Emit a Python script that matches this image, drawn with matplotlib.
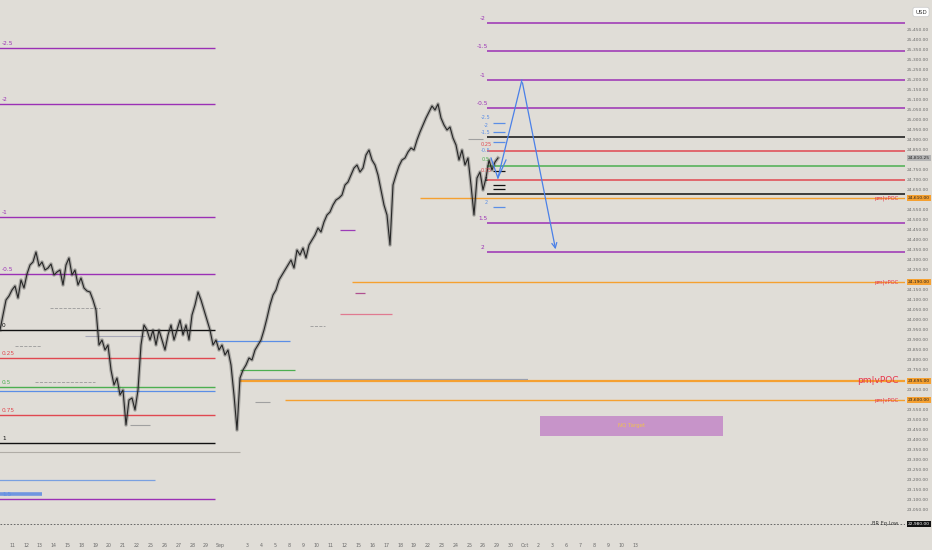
import numpy as np
import matplotlib.pyplot as plt
from matplotlib.transforms import blended_transform_factory

# price series, one close every 3 chart pixels (~5 hourly bars)
closes = [23950, 24025, 24100, 24120, 24150, 24170, 24110, 24200, 24160, 24230,
          24275, 24290, 24340, 24270, 24290, 24250, 24260, 24280, 24225, 24240,
          24250, 24175, 24275, 24310, 24225, 24250, 24175, 24210, 24160, 24145,
          24140, 24100, 24050, 23875, 23900, 23850, 23875, 23750, 23675, 23710,
          23625, 23650, 23475, 23600, 23610, 23550, 23650, 23875, 23975, 23950,
          23900, 23950, 23875, 23950, 23900, 23850, 23925, 23975, 23900, 23950,
          24000, 23925, 23975, 23900, 24025, 24075, 24140, 24100, 24050, 24000,
          23950, 23875, 23900, 23850, 23875, 23825, 23850, 23775, 23625, 23450,
          23710, 23750, 23775, 23810, 23800, 23850, 23875, 23900, 23950, 24010,
          24075, 24125, 24150, 24200, 24225, 24250, 24275, 24300, 24260, 24350,
          24325, 24360, 24310, 24375, 24400, 24425, 24460, 24440, 24490, 24525,
          24540, 24575, 24600, 24610, 24625, 24675, 24690, 24725, 24760, 24775,
          24740, 24760, 24825, 24850, 24800, 24775, 24725, 24650, 24575, 24525,
          24375, 24675, 24725, 24770, 24800, 24810, 24840, 24860, 24850, 24900,
          24940, 24975, 25010, 25040, 25070, 25050, 25080, 25010, 24975, 24950,
          24965, 24910, 24875, 24800, 24850, 24775, 24810, 24675, 24525, 24710,
          24740, 24650, 24710, 24800, 24750, 24790, 24810]
bar0 = -0.67

# left fib (ratio, price, colour)
left_fib_ratio = ["-2.5", "-2", "-1", "-0.5", "0", "0.25", "0.5", "0.75", "1", "1.5"]
left_fib_price = [25360, 25080, 24515, 24230, 23950, 23810, 23665, 23525, 23385, 23105]
left_fib_color = ["p", "p", "p", "p", "k", "r", "g", "r", "k", "p"]
left_fib_span = (-2, 71)

# right fib
right_fib_ratio = ["-2", "-1.5", "-1", "-0.5", "0", "0.25", "0.5", "0.75", "1", "1.5", "2"]
right_fib_price = [25485, 25345, 25200, 25060, 24915, 24845, 24770, 24700, 24630, 24485, 24340]
right_fib_color = ["p", "p", "p", "p", "k", "r", "g", "r", "k", "p", "p"]
right_fib_span = (161.7, 305)
right_fib_labeled = ["-2", "-1.5", "-1", "-0.5", "1.5", "2"]

# small fib inside the last swing
mini_price = [24985, 24940, 24890, 24745, 24675, 24655, 24565]
mini_color = ["b", "b", "b", "k", "k", "k", "b"]
mini_span = (163.5, 167.5)
mini_lbl = ["-2.5", "-2", "-1.5", "0.25", "-0.5", "0.5", "0.75", "1", "2"]
mini_lbl_price = [25010, 24970, 24935, 24875, 24845, 24800, 24745, 24700, 24585]
mini_lbl_color = ["b", "b", "b", "r", "b", "g", "r", "k", "b"]

# pm|vPOC levels
poc_price = [24610, 24190, 23695, 23600]
poc_start = [139.3, 116.7, 79.3, 94.3]
poc_big = [False, False, True, False]

# other short levels: (start, end, price, colour, style, width)
levels = [
    (16, 32.7, 24060, "#9a9a9a", "--", 0.6),
    (11, 31, 23690, "#9a9a9a", "--", 0.6),
    (4.3, 13, 23870, "#9a9a9a", "--", 0.6),
    (102.7, 107.7, 23970, "#9a9a9a", "--", 0.6),
    (27.7, 47.7, 23920, "#a8a8b8", "-", 0.8),
    (-1, 79.3, 23340, "#b0aca6", "-", 0.8),
    (84.3, 89.3, 23590, "#a0a0a0", "-", 0.8),
    (42.7, 49.3, 23475, "#a0a0a0", "-", 0.8),
    (155.3, 160.3, 24905, "#a0a0a0", "-", 0.8),
    (71, 96, 23895, "#5b8ee6", "-", 0.9),
    (-1, 71, 23645, "#5b8ee6", "-", 0.9),
    (79.3, 97.7, 23750, "#4caf50", "-", 0.9),
    (112.7, 117.7, 24450, "#9c3cb8", "-", 0.9),
    (117.7, 121, 24135, "#b05090", "-", 0.9),
    (112.7, 130, 24030, "#e07a90", "-", 0.9),
    (-1, 51, 23200, "#7aa0e0", "-", 0.9),
    (-1, 13.3, 23130, "#6f96e0", "-", 2.6),
    (79.3, 175.3, 23698, "#8fa0c0", "-", 1.6),
]

# projection path (bar, price)
proj_bar = [163, 165.3, 173.3, 184.7]
proj_price = [24810, 24710, 25200, 24340]
proj_v = ([165.3, 168], [24710, 24800])

target_box = (179.3, 240.3, 23420, 23520)
target_text = "NQ Target"

eq_low = 22980
last_price = 24810.25

# date axis: trading-day index and label
day_idx = [0, 1, 2, 3, 4, 5, 6, 7, 8, 9, 10, 11, 12, 13, 14, 15, 17, 18, 19, 20,
           21, 22, 23, 24, 25, 26, 27, 28, 29, 30, 31, 32, 33, 34, 35, 36, 37, 38,
           39, 40, 41, 42, 43, 44, 45]
day_lbl = ["11", "12", "13", "14", "15", "18", "19", "20", "21", "22", "25", "26",
           "27", "28", "29", "Sep", "3", "4", "5", "8", "9", "10", "11", "12", "15",
           "16", "17", "18", "19", "22", "23", "24", "25", "26", "29", "30", "Oct",
           "2", "3", "6", "7", "8", "9", "10", "13"]
bars_per_day = 4.617
first_day_bar = 3.4

COL = {"p": "#9b30b5", "k": "#111111", "r": "#e04850", "g": "#4caf50",
       "b": "#5b8ee6", "o": "#f5a030"}
BG = "#e0ddd7"

fig = plt.figure(figsize=(9.32, 5.5), dpi=100, facecolor=BG)
ax = fig.add_axes([0, 13 / 550, 905 / 932, 537 / 550], facecolor=BG)
ax.set_xlim(-0.67, 301)
ax.set_ylim(22915, 25600)
for s in ax.spines.values():
    s.set_visible(False)
tr = blended_transform_factory(ax.transAxes, ax.transData)

# price
x = bar0 + np.arange(len(closes))
ax.plot(x, closes, color="#333333", lw=2.6, alpha=0.3, zorder=3)
ax.plot(x, closes, color="#262626", lw=0.8, zorder=3)

# fibs
for r, p, c in zip(left_fib_ratio, left_fib_price, left_fib_color):
    ax.hlines(p, *left_fib_span, color=COL[c], lw=1.0, zorder=2)
    lc = COL["b"] if r == "1.5" else COL[c]
    ax.text(0.0, p + 12, r, color=lc, fontsize=4.2, ha="left", va="bottom", zorder=4)

for r, p, c in zip(right_fib_ratio, right_fib_price, right_fib_color):
    ax.hlines(p, *right_fib_span, color=COL[c], lw=1.1, zorder=2)
    if r in right_fib_labeled:
        ax.text(160.3, p + 12, r, color=COL[c], fontsize=4.2, ha="center", va="bottom")

for p, c in zip(mini_price, mini_color):
    ax.hlines(p, *mini_span, color=COL[c], lw=0.9, zorder=4)
for r, p, c in zip(mini_lbl, mini_lbl_price, mini_lbl_color):
    ax.text(161.3, p, r, color=COL[c], fontsize=3.6, ha="center", va="center", zorder=4)

for a, b, p, c, ls, w in levels:
    ax.hlines(p, a, b, color=c, ls=ls, lw=w, zorder=2)

# vPOC
for p, s, big in zip(poc_price, poc_start, poc_big):
    ax.hlines(p, s, 305, color=COL["o"], lw=1.6 if big else 1.0, zorder=2)
    ax.text(0.993, p, "pm|vPOC", transform=tr, color="#e8344a",
            fontsize=6.5 if big else 3.8, ha="right", va="center")
    ax.text(1.003, p, f"{p:,.2f}", transform=tr, fontsize=3.2, color="#222222",
            ha="left", va="center", clip_on=False,
            bbox=dict(boxstyle="square,pad=0.25", fc=COL["o"], ec="none"))

# projection
ax.plot(proj_bar[:3], proj_price[:3], color="#4a80e8", lw=0.9, zorder=5)
ax.plot(*proj_v, color="#4a80e8", lw=0.9, zorder=5)
ax.annotate("", xy=(proj_bar[3], proj_price[3]), xytext=(proj_bar[2], proj_price[2]),
            arrowprops=dict(arrowstyle="->", color="#4a80e8", lw=0.9,
                            mutation_scale=9), zorder=5)

# target box
x0, x1, y0, y1 = target_box
ax.fill_between([x0, x1], y0, y1, color="#c794c9", lw=0, zorder=2)
ax.text((x0 + x1) / 2, (y0 + y1) / 2, target_text, color="#f0c050",
        fontsize=4, ha="center", va="center", zorder=3)

# equal low
ax.axhline(eq_low, color="#555555", ls=(0, (2, 2)), lw=0.6)
ax.text(0.993, eq_low, "BR Eq Low", transform=tr, fontsize=3.6, color="#333333",
        ha="right", va="center")
ax.text(1.003, eq_low, f"{eq_low:,.2f}", transform=tr, fontsize=3.2, color="white",
        ha="left", va="center", clip_on=False,
        bbox=dict(boxstyle="square,pad=0.25", fc="#111111", ec="none"))

# last price
ax.text(1.003, last_price, f"{last_price:,.2f}", transform=tr, fontsize=3.2,
        color="#222222", ha="left", va="center", clip_on=False,
        bbox=dict(boxstyle="square,pad=0.25", fc="#b4b4b4", ec="none"))

# axes: skip plain labels hidden under the coloured boxes
boxed = poc_price + [eq_low, last_price]
yt = [v for v in np.arange(22950, 25500, 50)
      if min(abs(v - b) for b in boxed) > 30]
ax.yaxis.tick_right()
ax.set_yticks(yt)
ax.set_yticklabels([f"{v:,.2f}" for v in yt])
ax.tick_params(axis="y", length=0, pad=1.5, labelsize=3.2, labelcolor="#6a6a6a")
ax.set_xticks([first_day_bar + bars_per_day * d for d in day_idx])
ax.set_xticklabels(day_lbl)
ax.tick_params(axis="x", length=0, pad=4, labelsize=3.4, labelcolor="#6a6a6a")

fig.text(921 / 932, 1 - 12 / 550, "USD", fontsize=4, ha="center", va="center",
         color="#333333",
         bbox=dict(boxstyle="round,pad=0.4", fc="white", ec="#c8c8c8", lw=0.5))

fig.savefig("out.png", dpi=100, facecolor=BG)
